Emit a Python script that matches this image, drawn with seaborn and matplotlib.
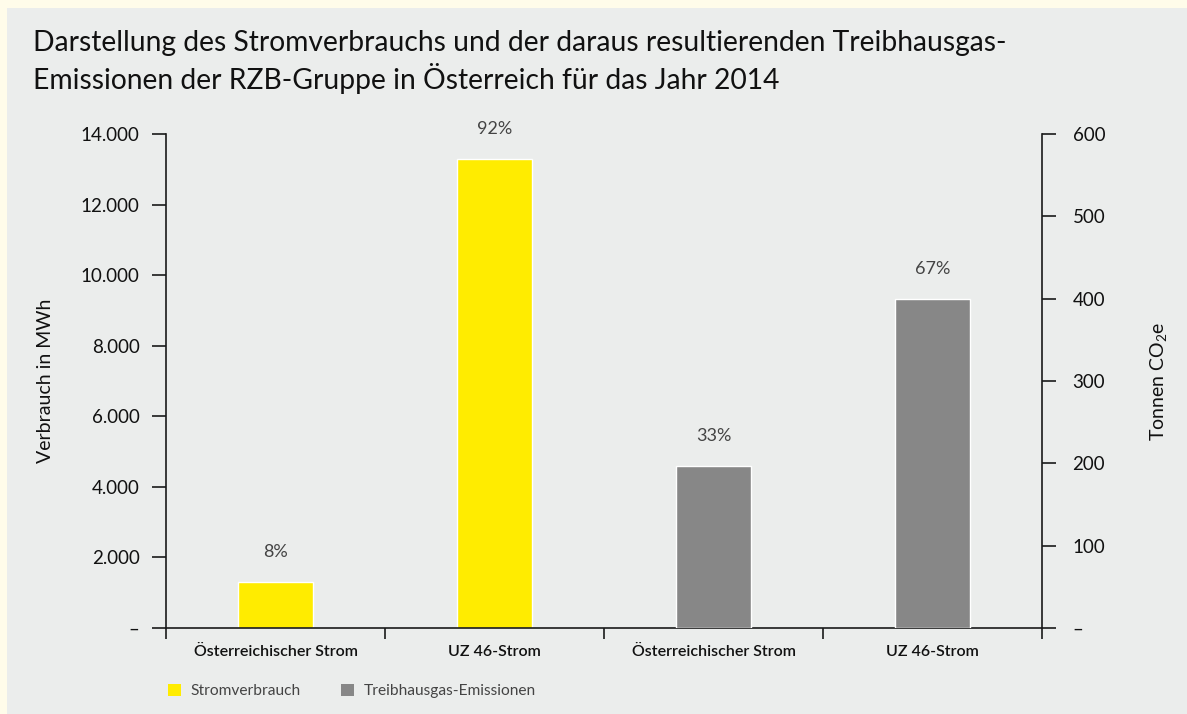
import matplotlib
matplotlib.use("Agg")
import matplotlib.pyplot as plt
import seaborn as sns
import pandas as pd
from matplotlib.patches import Rectangle, Patch
from matplotlib.ticker import FuncFormatter, FixedLocator

# ---- data ----
keys = ["oe_strom", "uz_strom", "oe_emis", "uz_emis"]
tick_labels = ["Österreichischer Strom", "UZ 46-Strom", "Österreichischer Strom", "UZ 46-Strom"]
verbrauch_keys = ["oe_strom", "uz_strom"]
verbrauch_mwh = [1300, 13300]
verbrauch_pct = ["8%", "92%"]
emis_keys = ["oe_emis", "uz_emis"]
emis_t = [197, 400]
emis_pct = ["33%", "67%"]
series_names = ["Stromverbrauch", "Treibhausgas-Emissionen"]
title = ("Darstellung des Stromverbrauchs und der daraus resultierenden Treibhausgas-\n"
         "Emissionen der RZB-Gruppe in Österreich für das Jahr 2014")

YELLOW = "#FFEC00"
GREY = "#878787"
PANEL = "#EBEDEC"
OUTER = "#FFFCEA"

sns.set_theme(style="white")
plt.rcParams["font.family"] = ["Lato", "DejaVu Sans"]
plt.rcParams["mathtext.default"] = "regular"

df_v = pd.DataFrame({"key": verbrauch_keys, "wert": verbrauch_mwh})
df_e = pd.DataFrame({"key": emis_keys, "wert": emis_t})

W, H = 1187, 714
fig = plt.figure(figsize=(W / 100, H / 100), dpi=100, facecolor=OUTER)
fig.patches.append(Rectangle((7 / W, 0), 1 - 7 / W, (H - 8) / H, transform=fig.transFigure,
                             facecolor=PANEL, edgecolor="none", zorder=-10))

ax = fig.add_axes([166 / W, (H - 628) / H, (1042 - 166) / W, (628 - 134) / H])
ax.set_facecolor("none")
ax2 = ax.twinx()
ax2.set_facecolor("none")

sns.barplot(data=df_v, x="key", y="wert", order=keys, color=YELLOW, width=0.34,
            edgecolor="white", linewidth=1, saturation=1, ax=ax)
sns.barplot(data=df_e, x="key", y="wert", order=keys, color=GREY, width=0.34,
            edgecolor="white", linewidth=1, saturation=1, ax=ax2)

ax.set_xlim(-0.5, 3.5)
ax.set_ylim(0, 14000)
ax2.set_ylim(0, 600)

# percentage labels
for axis, cont, labels in ((ax, ax.containers[0], verbrauch_pct), (ax2, ax2.containers[0], emis_pct)):
    bars = [b for b in cont if b.get_height() > 0]
    for b, lab in zip(bars, labels):
        axis.annotate(lab, (b.get_x() + b.get_width() / 2, b.get_height()),
                      xytext=(0, 21.5), textcoords="offset points", ha="center", va="center",
                      fontsize=13, color="#444444")

# spines
ax.spines["top"].set_visible(False)
ax2.spines["top"].set_visible(False)
ax.spines["right"].set_visible(False)
ax2.spines["left"].set_visible(False)
ax2.spines["bottom"].set_visible(False)
for sp in (ax.spines["left"], ax.spines["bottom"], ax2.spines["right"]):
    sp.set_visible(True)
    sp.set_color("#1a1a1a")
    sp.set_linewidth(1.2)

# x ticks: boundary marks + category labels
ax.xaxis.set_major_locator(FixedLocator([-0.5, 0.5, 1.5, 2.5, 3.5]))
ax.set_xticklabels([""] * 5)
ax.xaxis.set_minor_locator(FixedLocator([0, 1, 2, 3]))
ax.set_xticklabels(tick_labels, minor=True)
ax.tick_params(axis="x", which="major", direction="out", length=8, width=1.2, color="#1a1a1a", bottom=True)
ax.tick_params(axis="x", which="minor", length=0, pad=12, labelsize=11.5, labelcolor="#111111")
for t in ax.get_xticklabels(minor=True):
    t.set_fontweight("semibold")
ax.set_xlabel("")
ax2.set_xlabel("")

# y ticks
def fmt_left(v, pos):
    if v == 0:
        return "–"
    return f"{int(v):,}".replace(",", ".")

def fmt_right(v, pos):
    if v == 0:
        return "–"
    return f"{int(v)}"

ax.yaxis.set_major_locator(FixedLocator(list(range(0, 14001, 2000))))
ax.yaxis.set_major_formatter(FuncFormatter(fmt_left))
ax2.yaxis.set_major_locator(FixedLocator(list(range(0, 601, 100))))
ax2.yaxis.set_major_formatter(FuncFormatter(fmt_right))
ax.tick_params(axis="y", direction="out", length=10, width=1.2, color="#1a1a1a", left=True,
               labelsize=13.5, pad=9, labelcolor="#111111")
ax2.tick_params(axis="y", direction="out", length=10, width=1.2, color="#1a1a1a", right=True,
                labelsize=13.5, pad=12, labelcolor="#111111")

ax.set_ylabel("Verbrauch in MWh", fontsize=14, color="#111111", labelpad=19)
ax2.set_ylabel(r"Tonnen CO$_2$e", fontsize=14, color="#111111", labelpad=31)

fig.text(33 / W, 1 - 30 / H, title, ha="left", va="top", fontsize=20.3, color="#111111",
         linespacing=1.25)

handles = [Patch(facecolor=YELLOW, edgecolor="none"), Patch(facecolor=GREY, edgecolor="none")]
leg = fig.legend(handles, series_names, loc="center left", bbox_to_anchor=(154 / W, 1 - 691 / H),
                 ncol=2, frameon=False, handlelength=0.85, handleheight=0.85, handletextpad=0.6,
                 columnspacing=2.6, fontsize=11.2)
for t in leg.get_texts():
    t.set_color("#444444")

fig.savefig("out.png", dpi=100, facecolor=OUTER)
